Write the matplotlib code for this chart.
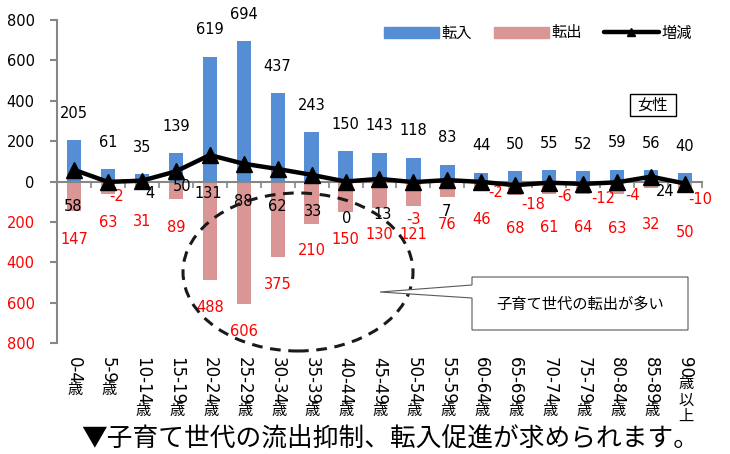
import matplotlib
matplotlib.use("Agg")
import matplotlib.pyplot as plt
import numpy as np
from matplotlib.patches import Ellipse, Polygon, Rectangle, Patch
from matplotlib.lines import Line2D
from matplotlib.transforms import blended_transform_factory

CJK = ["Noto Sans CJK JP", "DejaVu Sans"]
plt.rcParams["font.family"] = ["DejaVu Sans", "Noto Sans CJK JP"]

# 年齢階級別の転入・転出・増減（女性）
categories = ["0-4歳", "5-9歳", "10-14歳", "15-19歳", "20-24歳", "25-29歳",
              "30-34歳", "35-39歳", "40-44歳", "45-49歳", "50-54歳", "55-59歳",
              "60-64歳", "65-69歳", "70-74歳", "75-79歳", "80-84歳", "85-89歳",
              "90歳以上"]
inflow = [205, 61, 35, 139, 619, 694, 437, 243, 150, 143, 118, 83, 44, 50, 55, 52, 59, 56, 40]
outflow = [147, 63, 31, 89, 488, 606, 375, 210, 150, 130, 121, 76, 46, 68, 61, 64, 63, 32, 50]
net = [58, -2, 4, 50, 131, 88, 62, 33, 0, 13, -3, 7, -2, -18, -6, -12, -4, 24, -10]

IN_COLOR = "#558ED5"
OUT_COLOR = "#D99694"
AXIS_GRAY = "#868686"

# ラベル位置の微調整（ピクセル）
net_label_offsets = [(-1, 37), (9, 15), (8, 13), (6, 15), (-2, 38), (0, 38), (0, 38),
                     (1, 37), (1, 37), (3, 36), (0, 37), (-1, 31), (14, 11), (18, 19),
                     (15, 14), (20, 15), (15, 13), (14, 15), (15, 16)]
out_label_offsets = [28, 28, 34, 28, 27, 28, 27, 27, 28, 27, 29, 28, 29, 33, 34, 33, 34, 37, 41]

W, H = 730, 454


def fx(px):
    return px / W


def fy(py):
    return 1 - py / H


fig = plt.figure(figsize=(W / 100, H / 100), dpi=100)
ax = fig.add_axes([fx(57), fy(343), fx(702 - 57), (343 - 20) / H])

x = np.arange(len(categories))
ax.bar(x, inflow, width=0.42, color=IN_COLOR, zorder=1)
ax.bar(x, [-v for v in outflow], width=0.42, color=OUT_COLOR, zorder=1)
ax.plot(x, net, color="black", lw=3.2, marker="^", ms=12, zorder=4,
        solid_joinstyle="round")

ax.set_xlim(-0.5, len(categories) - 0.5)
ax.set_ylim(-800, 800)
for side in ("top", "right"):
    ax.spines[side].set_visible(False)
ax.spines["bottom"].set_position(("data", 0))
for side in ("bottom", "left"):
    ax.spines[side].set_color(AXIS_GRAY)
    ax.spines[side].set_linewidth(1.5)

ax.set_xticks(np.arange(-0.5, len(categories), 1))
ax.tick_params(axis="x", length=4, width=1.2, color=AXIS_GRAY, labelbottom=False)

yticks = list(range(-800, 801, 200))
ax.set_yticks(yticks)
ax.set_yticklabels([str(abs(v)) for v in yticks], fontsize=10.5)
ax.tick_params(axis="y", length=5, width=1.5, color=AXIS_GRAY, pad=11)
for lbl, v in zip(ax.get_yticklabels(), yticks):
    lbl.set_color("red" if v < 0 else "black")

# データラベル
for i, v in enumerate(inflow):
    ax.annotate(str(v), (i, v), xytext=(0, 27), textcoords="offset pixels",
                ha="center", va="center", fontsize=10.5, zorder=5)
for i, v in enumerate(outflow):
    ax.annotate(str(v), (i, -v), xytext=(0, -out_label_offsets[i]),
                textcoords="offset pixels", ha="center", va="center",
                fontsize=10.5, color="red", zorder=5)
for i, v in enumerate(net):
    dx, dy = net_label_offsets[i]
    ax.annotate(str(v), (i, v), xytext=(dx, -dy), textcoords="offset pixels",
                ha="center", va="center", fontsize=10.5,
                color="black" if v >= 0 else "red", zorder=3)

# 縦書きの年齢階級ラベル
trans = blended_transform_factory(ax.transData, ax.transAxes)
for i, cat in enumerate(categories):
    digits, rest = cat.split("歳", 1)
    t = ax.annotate(digits, xy=(i, 0), xycoords=trans, xytext=(0, -14),
                    textcoords="offset pixels", rotation=-90, ha="center",
                    va="top", fontsize=12)
    ax.annotate("\n".join("歳" + rest), xy=(0.5, 0), xycoords=t, xytext=(1, 3),
                textcoords="offset pixels", ha="center", va="top",
                fontsize=11, family=CJK, linespacing=0.95)

# 凡例
handles = [Patch(color=IN_COLOR), Patch(color=OUT_COLOR),
           Line2D([], [], color="black", lw=3.2, marker="^", ms=6,
                  solid_capstyle="round")]
fig.legend(handles, ["転入", "転出", "増減"], loc="center",
           bbox_to_anchor=(fx(538), fy(33)), ncol=3, frameon=False,
           prop={"family": CJK, "size": 11}, handlelength=3.6,
           handletextpad=0.2, columnspacing=1.4)

# 女性ラベル
fig.add_artist(Rectangle((fx(630), fy(116)), fx(46), 22 / H,
                         transform=fig.transFigure, fill=False,
                         edgecolor="black", lw=1))
fig.text(fx(653), fy(105), "女性", ha="center", va="center", fontsize=11,
         family=CJK)

# 子育て世代を囲む破線の楕円
fig.add_artist(Ellipse((fx(298), fy(272)), fx(230), 158 / H,
                       transform=fig.transFigure, fill=False, edgecolor="#1a1a1a",
                       lw=2.2, linestyle=(0, (3.5, 2.5)), zorder=6))

# 吹き出し
callout = [(472, 277), (688, 277), (688, 330), (472, 330), (472, 298),
           (380, 292), (472, 285)]
fig.add_artist(Polygon([(fx(px), fy(py)) for px, py in callout], closed=True,
                       transform=fig.transFigure, facecolor="white",
                       edgecolor="#595959", lw=0.8, zorder=7))
fig.text(fx(580), fy(304), "子育て世代の転出が多い", ha="center", va="center",
         fontsize=11, family=CJK, zorder=8)

fig.text(fx(390), fy(440), "▼子育て世代の流出抑制、転入促進が求められます。",
         ha="center", va="center", fontsize=18.5, family=CJK)

fig.savefig("out.png", dpi=100)
